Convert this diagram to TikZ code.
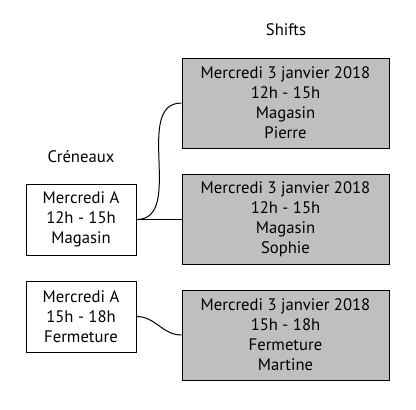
\documentclass[tikz,border=0pt]{standalone}
\usepackage{fontspec}
\setmainfont{PT Sans}
\usepackage{tikz}

\begin{document}
\begin{tikzpicture}[x=0.6pt,y=-0.6pt]
\tikzstyle{every node}+=[align=center]
\tikzstyle{creneau}=[draw=black,semithick,fill=white,minimum width=66pt,minimum height=42.6pt,inner sep=2pt]
\tikzstyle{shiftbox}=[draw=black,semithick,fill=black!25,minimum width=124.2pt,minimum height=54pt,inner sep=2pt]
\useasboundingbox (0,0) rectangle (416,409);
% titres
\node (titreshifts) at (286,30) {Shifts};
\node (titrecreneaux) at (81,157) {Créneaux};
% shifts
\node [shiftbox] (shifta) at (285.5,103) {Mercredi 3 janvier 2018\\12h - 15h\\Magasin\\Pierre};
\node [shiftbox] (shiftb) at (285.5,219.5) {Mercredi 3 janvier 2018\\12h - 15h\\Magasin\\Sophie};
\node [shiftbox] (shiftc) at (285.5,335) {Mercredi 3 janvier 2018\\15h - 18h\\Fermeture\\Martine};
% creneaux
\node [creneau] (creneaua) at (81,219.5) {Mercredi A\\12h - 15h\\Magasin};
\node [creneau] (creneaub) at (81,316.5) {Mercredi A\\15h - 18h\\Fermeture};
% liens
\draw [semithick] (creneaua.east) to [out=0,in=180] (shifta.west);
\draw [semithick] (creneaua.east) -- (shiftb.west);
\draw [semithick] (creneaub.east) to [out=0,in=180] (shiftc.west);
\end{tikzpicture}
\end{document}
